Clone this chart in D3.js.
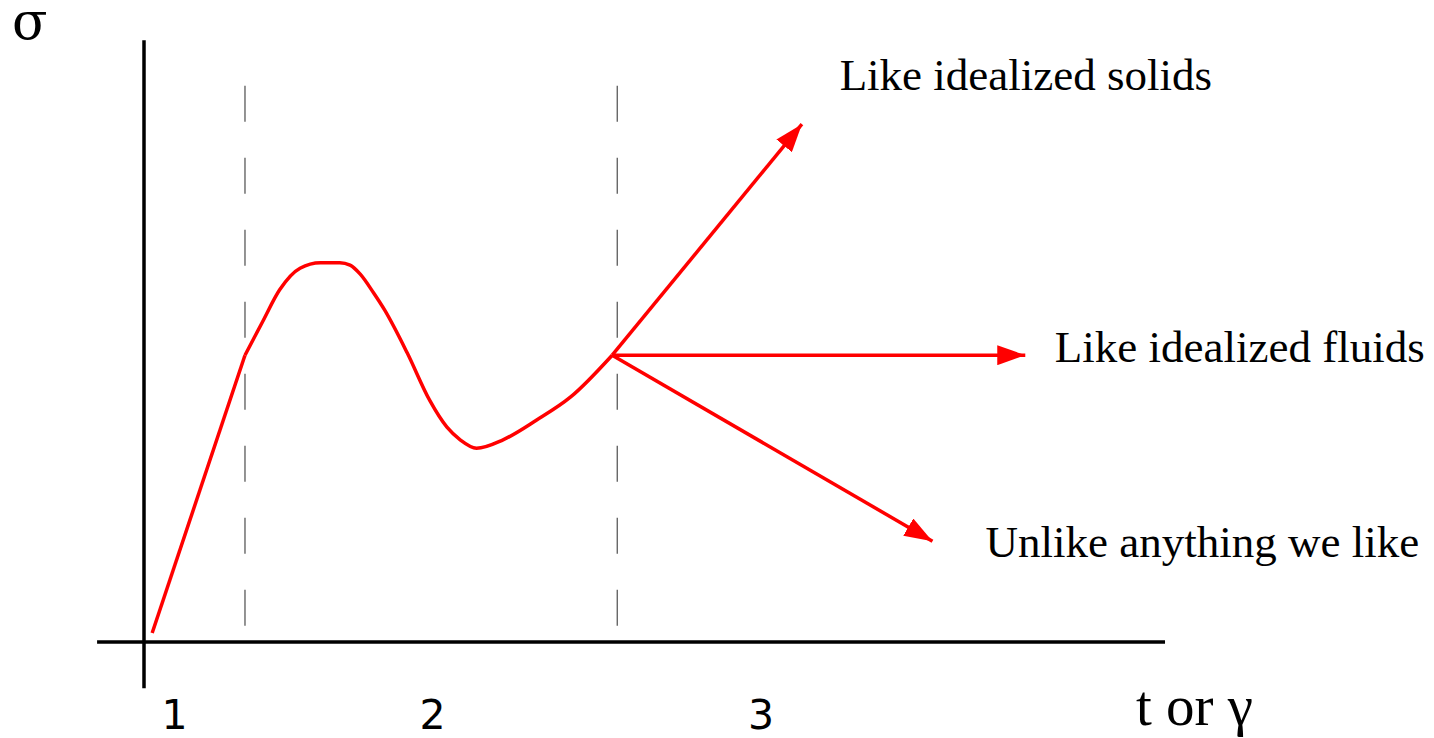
<!DOCTYPE html>
<html>
<head>
<meta charset="utf-8">
<script src="https://cdn.jsdelivr.net/npm/d3@7"></script>
<style>
  body { margin: 0; background: #fff; }
  svg { display: block; }
</style>
</head>
<body>
<svg></svg>
<script>
// Stress vs time/strain sketch, values in arbitrary units
const ramp = [[0.08, 0.15], [0.99, 4.78]];
const hump = [
  [0.99, 4.78], [1.16, 5.33], [1.33, 5.87], [1.53, 6.23], [1.73, 6.32],
  [1.92, 6.32], [2.02, 6.28], [2.12, 6.13], [2.25, 5.82], [2.36, 5.53],
  [2.58, 4.82], [2.80, 4.03], [2.97, 3.58], [3.10, 3.37], [3.26, 3.23],
  [3.52, 3.37], [3.85, 3.70], [4.18, 4.08], [4.59, 4.78]
];
const branchOrigin = [4.59, 4.78];
const branchTips = [[6.45, 8.63], [8.64, 4.78], [7.73, 1.68]];
const branchLabels = ["Like idealized solids", "Like idealized fluids", "Unlike anything we like"];
const branchLabelPos = [[6.82, 9.2], [8.93, 4.67], [8.25, 1.42]];
const regionBounds = [0.99, 4.64];
const regionLabels = ["1", "2", "3"];
const regionLabelX = [0.30, 2.83, 6.05];

const W = 1434, H = 738;
const svg = d3.select("svg").attr("width", W).attr("height", H);

const x = d3.scaleLinear().domain([0, 10]).range([144, 1164]);
const y = d3.scaleLinear().domain([0, 10]).range([642, 42]);

// arrow head
svg.append("defs").append("marker")
    .attr("id", "head")
    .attr("markerUnits", "userSpaceOnUse")
    .attr("viewBox", "0 -10 28 20")
    .attr("refX", 28).attr("refY", 0)
    .attr("markerWidth", 28).attr("markerHeight", 20)
    .attr("orient", "auto")
  .append("path")
    .attr("d", "M0,-10L28,0L0,10Z")
    .attr("fill", "#ff0000");

// dashed region boundaries
svg.append("g")
  .selectAll("line")
  .data(regionBounds)
  .enter()
  .append("line")
    .attr("x1", d => x(d)).attr("x2", d => x(d))
    .attr("y1", y(9.27)).attr("y2", y(0.23))
    .attr("stroke", "#666")
    .attr("stroke-width", 1.4)
    .attr("stroke-dasharray", "36,36");

// axes
svg.append("line")
    .attr("x1", x(0)).attr("x2", x(0))
    .attr("y1", y(10.03)).attr("y2", y(-0.77))
    .attr("stroke", "#000").attr("stroke-width", 3.5);
svg.append("line")
    .attr("x1", x(-0.46)).attr("x2", x(10.01))
    .attr("y1", y(0)).attr("y2", y(0))
    .attr("stroke", "#000").attr("stroke-width", 3.5);

// curve
svg.append("path")
    .datum(ramp)
    .attr("d", d3.line().x(d => x(d[0])).y(d => y(d[1])))
    .attr("fill", "none").attr("stroke", "#ff0000").attr("stroke-width", 3.5);
svg.append("path")
    .datum(hump)
    .attr("d", d3.line().x(d => x(d[0])).y(d => y(d[1])).curve(d3.curveMonotoneX))
    .attr("fill", "none").attr("stroke", "#ff0000").attr("stroke-width", 3.5)
    .attr("stroke-linejoin", "round");

// branches
svg.append("g")
  .selectAll("line")
  .data(branchTips)
  .enter()
  .append("line")
    .attr("x1", x(branchOrigin[0])).attr("y1", y(branchOrigin[1]))
    .attr("x2", d => x(d[0])).attr("y2", d => y(d[1]))
    .attr("stroke", "#ff0000").attr("stroke-width", 3.5)
    .attr("marker-end", "url(#head)");

svg.append("g")
  .selectAll("text")
  .data(branchLabels)
  .enter()
  .append("text")
    .attr("x", (d, i) => x(branchLabelPos[i][0]))
    .attr("y", (d, i) => y(branchLabelPos[i][1]))
    .style("font-family", "'Liberation Serif', 'Times New Roman', serif")
    .style("font-size", "45px")
    .text(d => d);

// region numbers
svg.append("g")
  .selectAll("text")
  .data(regionLabels)
  .enter()
  .append("text")
    .attr("x", (d, i) => x(regionLabelX[i]))
    .attr("y", 729)
    .style("text-anchor", "middle")
    .style("font-family", "'DejaVu Sans', sans-serif")
    .style("font-size", "41px")
    .text(d => d);

// axis labels
svg.append("text")
    .attr("x", 12).attr("y", 39)
    .style("font-family", "'DejaVu Serif', serif")
    .style("font-size", "52px")
    .text("σ");

svg.append("text")
    .attr("x", 1136).attr("y", 725)
    .style("font-family", "'Liberation Serif', serif")
    .style("font-size", "57px")
    .text("t or γ");
</script>
</body>
</html>
